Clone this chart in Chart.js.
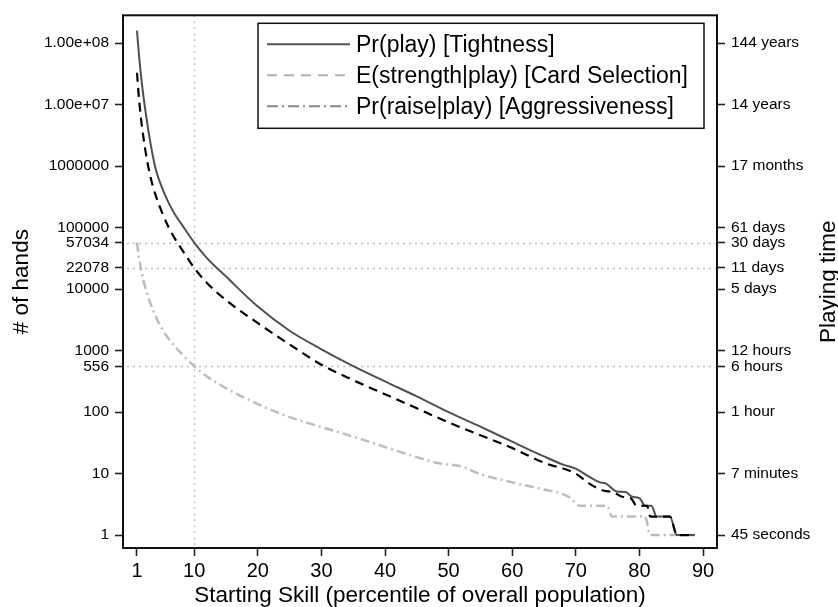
<!DOCTYPE html>
<html>
<head>
<meta charset="utf-8">
<script src="https://cdn.jsdelivr.net/npm/chart.js@4.4.0/dist/chart.umd.min.js"></script>
<style>
  html, body { margin: 0; padding: 0; background: #fff; }
  #wrap { width: 838px; height: 607px; }
</style>
</head>
<body>
<div id="wrap"><canvas id="line-chart" width="838" height="607"></canvas></div>
<script>
const FONT = "'Liberation Sans', Arial, Helvetica, sans-serif";

// Pr(play) [Tightness] - # of hands by starting skill percentile
const tightX = [1, 1.25, 1.5, 1.75, 2, 2.5, 3, 3.5, 4, 5, 6, 7, 8, 10, 12, 15, 20, 25, 30, 35, 40, 45, 50, 55, 60, 65, 68, 70, 72, 73.8, 74.6, 76.5, 77.8, 78.9, 80, 80.9, 81.9, 82.7, 84.8, 85.9, 88.7];
const tightY = [160000000, 76000000, 40000000, 23000000, 14000000, 6000000, 2800000, 1450000, 850000, 430000, 250000, 162000, 114000, 57034, 32000, 16000, 5200, 2100, 1050, 560, 316, 180, 100, 58, 33, 19, 14, 12, 9, 7.2, 7, 5.1, 5, 4.2, 4, 3, 3, 2, 2, 1, 1];

// E(strength|play) [Card Selection]
const cardX = [1, 1.25, 1.5, 1.75, 2, 2.5, 3, 3.5, 4, 5, 6, 7, 8, 10, 12, 15, 20, 25, 30, 35, 40, 45, 50, 55, 60, 65, 70, 72, 74.3, 75.9, 77.3, 78.6, 79.6, 81.2, 81.7, 84.8, 85.9, 88.7];
const cardY = [33000000, 15000000, 7900000, 4700000, 3000000, 1380000, 760000, 470000, 320000, 170000, 100000, 65000, 45000, 22078, 12600, 6600, 2800, 1260, 590, 330, 195, 115, 68, 42, 26, 15, 10, 7, 5.3, 5, 4.2, 4, 3, 3, 2, 2, 1, 1];

// Pr(raise|play) [Aggressiveness]
const aggrX = [1, 1.25, 1.5, 1.75, 2, 2.5, 3, 4, 5, 6, 8, 10, 12, 15, 20, 25, 30, 35, 40, 45, 48, 52, 55, 60, 65, 67.5, 69, 70.6, 74.9, 75.7, 80.9, 81.7, 88.7];
const aggrY = [57034, 36000, 25000, 18500, 14000, 9100, 6300, 3500, 2200, 1550, 890, 556, 380, 245, 135, 83, 57, 40, 27, 18.5, 15, 13, 9.8, 7.2, 5.5, 4.8, 4.1, 3, 3, 2, 2, 1, 1];

const xTicks = [1, 10, 20, 30, 40, 50, 60, 70, 80, 90];
const yTicks = [1, 10, 100, 556, 1000, 10000, 22078, 57034, 100000, 1000000, 10000000, 100000000];
const handLabels = ['1', '10', '100', '556', '1000', '10000', '22078', '57034', '100000', '1000000', '1.00e+07', '1.00e+08'];
const timeLabels = ['45 seconds', '7 minutes', '1 hour', '6 hours', '12 hours', '5 days', '11 days', '30 days', '61 days', '17 months', '14 years', '144 years'];
const refHands = [57034, 22078, 556];
const refSkill = [10];

const seriesNames = ['Pr(play) [Tightness]', 'E(strength|play) [Card Selection]', 'Pr(raise|play) [Aggressiveness]'];
// the legend keys are styled differently from the plotted lines in the original
const keyStyles = [
  { color: '#555555', dash: [] },
  { color: '#b0b0b0', dash: [10, 7] },
  { color: '#888888', dash: [11, 4, 2, 4] }
];

function pts(xs, ys) {
  return xs.map((x, i) => ({ x: x, y: ys[i] }));
}

const extras = {
  id: 'extras',
  beforeDatasetsDraw(chart) {
    const { ctx, chartArea: a, scales } = chart;
    ctx.save();
    ctx.strokeStyle = '#bdbdbd';
    ctx.lineWidth = 1.3;
    ctx.setLineDash([2, 4]);
    refHands.forEach(v => {
      const y = Math.round(scales.y.getPixelForValue(v)) + 0.5;
      ctx.beginPath();
      ctx.moveTo(a.left + 4, y);
      ctx.lineTo(a.right, y);
      ctx.stroke();
    });
    refSkill.forEach(v => {
      const x = Math.round(scales.x.getPixelForValue(v)) + 0.5;
      ctx.beginPath();
      ctx.moveTo(x, a.top);
      ctx.lineTo(x, a.bottom);
      ctx.stroke();
    });
    ctx.restore();
  },
  afterDraw(chart) {
    const { ctx, chartArea: a } = chart;
    ctx.save();
    // plot frame
    ctx.strokeStyle = '#111';
    ctx.lineWidth = 2;
    ctx.strokeRect(a.left, a.top, a.right - a.left, a.bottom - a.top);

    // legend box
    const bx = 258, by = a.top + 8, bw = a.right - 13 - bx, bh = 105;
    ctx.lineWidth = 1.5;
    ctx.strokeStyle = '#111';
    ctx.fillStyle = '#fff';
    ctx.fillRect(bx, by, bw, bh);
    ctx.strokeRect(bx, by, bw, bh);
    ctx.font = '23px ' + FONT;
    ctx.textBaseline = 'middle';
    ctx.textAlign = 'left';
    seriesNames.forEach((name, i) => {
      const y = by + 21 + i * 31;
      ctx.strokeStyle = keyStyles[i].color;
      ctx.lineWidth = 2;
      ctx.setLineDash(keyStyles[i].dash);
      ctx.beginPath();
      ctx.moveTo(bx + 9, y);
      ctx.lineTo(bx + 92, y);
      ctx.stroke();
      ctx.fillStyle = '#000';
      ctx.fillText(name, bx + 98, y + 1);
    });
    ctx.setLineDash([]);

    // axis titles, both reading bottom to top
    ctx.fillStyle = '#000';
    ctx.font = '22.5px ' + FONT;
    ctx.textAlign = 'center';
    ctx.textBaseline = 'alphabetic';
    const cy = (a.top + a.bottom) / 2;
    ctx.save();
    ctx.translate(28, cy);
    ctx.rotate(-Math.PI / 2);
    ctx.fillText('# of hands', 0, 0);
    ctx.restore();
    ctx.save();
    ctx.translate(835, cy);
    ctx.rotate(-Math.PI / 2);
    ctx.fillText('Playing time', 0, 0);
    ctx.restore();
    ctx.textBaseline = 'middle';
    ctx.fillText('Starting Skill (percentile of overall population)', (a.left + a.right) / 2, 596);
    ctx.restore();
  }
};

function yAxis(position, labels, width) {
  return {
    type: 'logarithmic',
    position: position,
    min: 0.616,
    max: 284000000,
    bounds: 'data',
    afterBuildTicks: s => { s.ticks = yTicks.map(v => ({ value: v })); },
    afterFit: s => { s.width = width; },
    border: { display: false },
    grid: { display: true, drawOnChartArea: false, drawTicks: true, tickLength: 8, tickWidth: 1.6, tickColor: '#222' },
    ticks: {
      autoSkip: false,
      padding: 6,
      color: '#000',
      font: { family: FONT, size: 15.5 },
      callback: (v, i) => labels[i]
    }
  };
}

new Chart(document.getElementById('line-chart'), {
  type: 'line',
  data: {
    datasets: [
      {
        label: seriesNames[1],
        data: pts(cardX, cardY),
        borderColor: '#000',
        borderWidth: 2.2,
        borderDash: [9, 6],
        fill: false
      },
      {
        label: seriesNames[0],
        data: pts(tightX, tightY),
        borderColor: '#505050',
        borderWidth: 2,
        fill: false
      },
      {
        label: seriesNames[2],
        data: pts(aggrX, aggrY),
        borderColor: '#bdbdbd',
        borderWidth: 2.5,
        borderDash: [9, 4, 2, 4],
        fill: false
      }
    ]
  },
  options: {
    responsive: false,
    animation: false,
    devicePixelRatio: 1,
    layout: { padding: { top: 13, left: 0, right: 0, bottom: 0 } },
    elements: { point: { radius: 0 }, line: { cubicInterpolationMode: 'monotone' } },
    plugins: { legend: { display: false }, tooltip: { enabled: false } },
    scales: {
      x: {
        type: 'linear',
        min: -1.2,
        max: 92.2,
        bounds: 'data',
        afterBuildTicks: s => { s.ticks = xTicks.map(v => ({ value: v })); },
        afterFit: s => { s.height = 59; },
        border: { display: false },
        grid: { display: true, drawOnChartArea: false, drawTicks: true, tickLength: 8, tickWidth: 1.6, tickColor: '#222' },
        ticks: { autoSkip: false, maxRotation: 0, padding: 3, color: '#000', font: { family: FONT, size: 20 } }
      },
      y: yAxis('left', handLabels, 123),
      y2: yAxis('right', timeLabels, 121)
    }
  },
  plugins: [extras]
});
</script>
</body>
</html>
